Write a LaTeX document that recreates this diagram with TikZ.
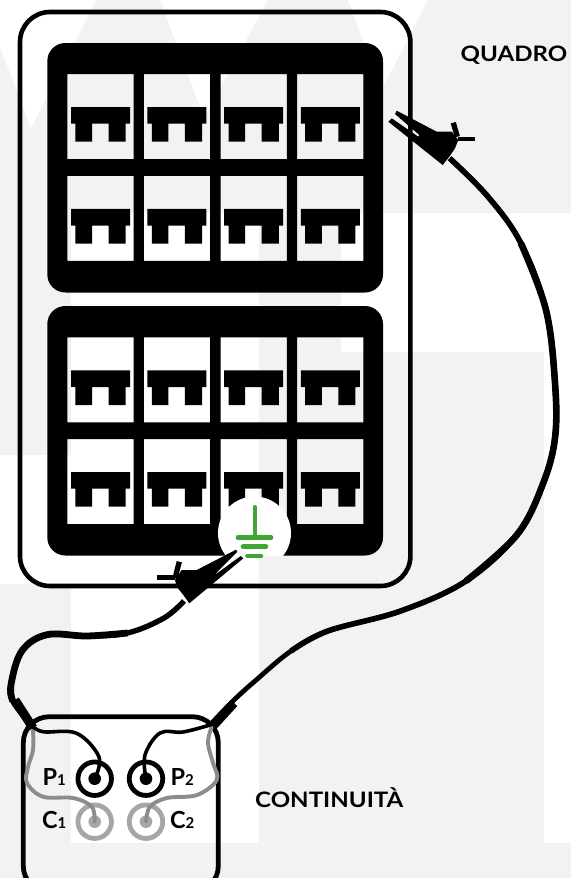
\documentclass[tikz,border=0pt]{standalone}
\usepackage{fontspec}
\setmainfont{Lato}
\newfontfamily\widefont[FakeStretch=1.13]{Lato}
\definecolor{wm}{HTML}{F2F2F2}
\definecolor{earth}{HTML}{3FA535}
\definecolor{termgrey}{HTML}{A6A6A6}
\definecolor{wiregrey}{HTML}{8C8C8C}
\tikzset{
  x=1pt,y=-1pt,
  frame/.style={draw=black,line width=4.6pt,rounded corners=30pt},
  lead/.style={draw=black,line width=3.6pt,line cap=round},
  greylead/.style={draw=wiregrey,line width=3.9pt,line cap=round},
  cable/.style={draw=black,line width=5.4pt},
  sleeve/.style={draw=black,line width=9pt},
  blackterm/.style={circle,draw=black,line width=4.8pt,minimum size=33.5pt,inner sep=0pt},
  greyterm/.style={circle,draw=termgrey,line width=4.8pt,minimum size=33.5pt,inner sep=0pt},
  earthline/.style={draw=earth,line width=4.6pt,line cap=round},
  txt/.style={anchor=base west,inner sep=0pt,text=black,font=\widefont\fontsize{21.3}{21.3}\selectfont\bfseries},
  lab/.style={anchor=base west,inner sep=0pt,text=black,font=\fontsize{23.5}{23.5}\selectfont\bfseries},
}
\newcommand{\subn}[1]{{\fontsize{15}{15}\selectfont #1}}
\begin{document}
\begin{tikzpicture}
\useasboundingbox (0,0) rectangle (571,878);
\clip (0,0) rectangle (571,878);
\fill[white] (0,0) rectangle (571,878);
% watermark
\fill[wm] (0,0) rectangle (571,213);
\fill[white] (0,0) -- (96.5,0) -- (31,128) -- (0,47) -- cycle;
\fill[white] (160,0) -- (267.7,0) -- (204,118) -- cycle;
\fill[white] (347.8,0) -- (427.9,0) -- (381.6,90) -- cycle;
\fill[wm] (0,213) rectangle (71,455);
\fill[wm] (0,584) rectangle (71,878);
\fill[wm] (0,843) rectangle (571,878);
\fill[wm] (258.6,213) rectangle (340.5,352);
\fill[wm] (258.6,352) rectangle (544.4,843);
% cabinet
\draw[frame] (20,12) rectangle (410.4,586);
% panels with cell windows
\fill[black,even odd rule] [rounded corners=18pt] (47.3,43) rectangle (383,292.5) [sharp corners]
  foreach \cx in {67.4,143.8,220.6,297.2} { foreach \cy in {74,175.8} { (\cx,\cy) rectangle ++(66.2,85) } };
\fill[black,even odd rule] [rounded corners=18pt] (47.3,306) rectangle (383,555.5) [sharp corners]
  foreach \cx in {67.4,143.8,220.6,297.2} { foreach \cy in {337.3,439} { (\cx,\cy) rectangle ++(66.2,85) } };
% breakers
\foreach \cx in {67.4,143.8,220.6,297.2} { \foreach \cy in {74,175.8,337.3,439} {
  \fill[black] (\cx+3.6,\cy+33) -- (\cx+62.6,\cy+33) -- (\cx+62.6,\cy+49.7) -- (\cx+58.2,\cy+49.7)
    -- (\cx+58.2,\cy+67.7) -- (\cx+41.1,\cy+67.7) -- (\cx+41.1,\cy+49.7) -- (\cx+24.6,\cy+49.7)
    -- (\cx+24.6,\cy+67.7) -- (\cx+8,\cy+67.7) -- (\cx+8,\cy+49.7) -- (\cx+3.6,\cy+49.7) -- cycle;
}}
% earth disc and symbol
\begin{scope}
\clip (200,480) rectangle (310,555.5);
\fill[white] (254.5,533) circle (36.5);
\end{scope}
\draw[earthline,line width=4pt] (254.5,507) -- (254.5,537.5);
\draw[earthline] (238,537.5) -- (271,537.5);
\draw[earthline] (243,546.7) -- (266,546.7);
\draw[earthline] (247.5,556) -- (261,556);
% instrument
\draw[draw=black,line width=4.8pt,rounded corners=26pt] (23.3,716.7) rectangle (218.3,892);
\node[blackterm] (p1) at (94.7,778.7) {};
\node[blackterm] (p2) at (146,778.7) {};
\node[greyterm] (c1) at (94.7,821.7) {};
\node[greyterm] (c2) at (146,821.7) {};
\fill[black] (p1.center) circle (6.3);
\fill[black] (p2.center) circle (6.3);
\fill[termgrey] (c1.center) circle (6.3);
\fill[termgrey] (c2.center) circle (6.3);
\coordinate (lj) at (31,725);
\coordinate (rj) at (210,725);
\coordinate (lp) at (184,601);
\coordinate (rp) at (449.7,158.3);
% grey leads
\draw[greylead] plot[smooth,tension=0.6] coordinates {(c1.center) (91.7,806.7) (73,798) (43,796.7) (27,783) (28,767) (33,750) (33,730)};
\draw[greylead] plot[smooth,tension=0.6] coordinates {(c2.center) (150,806.7) (167,798) (197,795) (216.7,780) (213,763) (208,743) (211.7,726.7)};
% black leads
\draw[lead] plot[smooth,tension=0.6] coordinates {(p1.center) (99,757) (76.7,733.3) (43,731.7) (lj)};
\draw[lead] plot[smooth,tension=0.6] coordinates {(p2.center) (145,755) (160,733) (183,732) (rj)};
% cables, thicker towards their middle
\draw[cable] plot[smooth,tension=0.6] coordinates {(lj) (12.7,701) (11,684.7) (21.8,651) (47,634.7) (87,636) (127.5,633) (164,618) (lp)};
\draw[cable,line width=6.8pt] plot[smooth,tension=0.6] coordinates {(12.7,701) (11,684.7) (21.8,651) (47,634.7) (87,636) (127.5,633)};
\draw[cable,line width=4.8pt] plot[smooth,tension=0.6] coordinates {(rj) (233,701) (255,681) (291,651) (327.8,631) (400.6,611) (466,581) (517,534.7) (542.6,484.7) (555,438) (555,383) (546,310) (520.8,243) (488,196.7) (rp)};
\draw[cable,line width=5.6pt] plot[smooth,tension=0.6] coordinates {(291,651) (327.8,631) (400.6,611) (466,581) (517,534.7) (542.6,484.7) (555,438) (555,383) (546,310) (520.8,243) (488,196.7) (rp)};
\draw[cable,line width=6.6pt] plot[smooth,tension=0.6] coordinates {(466,581) (517,534.7) (542.6,484.7) (555,438) (555,383) (546,310) (520.8,243)};
% sleeves
\draw[sleeve] (33,728) -- (15,700);
\draw[sleeve] (213,726) -- (234,703);
% clip on cabinet (right)
\fill[black] (396.7,110.7) -- (436.7,131.7) -- (451.7,131.7) -- (458.3,140) -- (455,148.3) -- (449.3,156.7) -- (442.7,165)
  -- (388.3,121.7) -- (391.7,118.3) -- (418.3,136.7) -- (419.3,135) -- (395,114) -- cycle;
\draw[black,line width=5.3pt] (453.3,122.7) -- (457.3,136.7);
\draw[black,line width=4.8pt] (458,139) -- (475,139);
% clip on earth (left)
\fill[black] (236,549.7) -- (196.7,570) -- (181.7,570) -- (175,580) -- (176.7,586.7) -- (183.3,595) -- (189.3,603.3)
  -- (243.3,558.3) -- (240.7,556) -- (213.3,576) -- (237.3,551.7) -- cycle;
\draw[black,line width=5.3pt] (179.3,561.7) -- (175,578.3);
\draw[black,line width=4.8pt] (157.3,577.7) -- (175,577.7);
% labels
\node[txt] (quadro) at (460.5,61) {QUADRO};
\node[txt] (continuita) at (255,807) {CONTINUITÀ};
\node[lab] (lp1) at (42.5,785) {P\subn{1}};
\node[lab] (lc1) at (42,828.7) {C\subn{1}};
\node[lab] (lp2) at (170.4,785) {P\subn{2}};
\node[lab] (lc2) at (170,828.7) {C\subn{2}};
\end{tikzpicture}
\end{document}
